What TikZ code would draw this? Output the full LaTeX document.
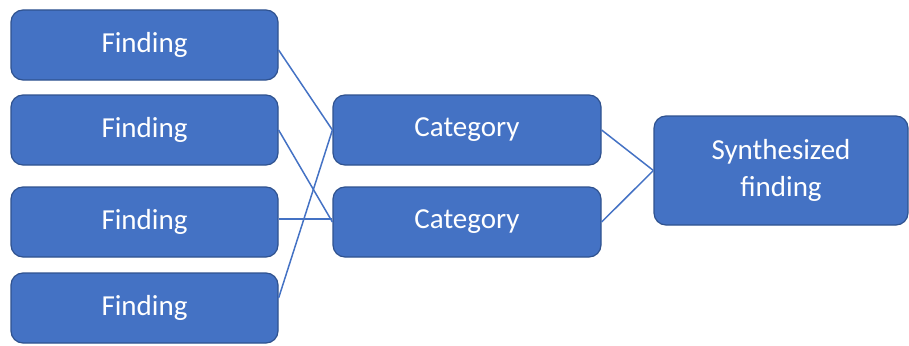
\documentclass[tikz,border=0pt]{standalone}
\usepackage{fontspec}
\setmainfont{Carlito}
\definecolor{boxblue}{HTML}{4472C4}
\definecolor{boxedge}{HTML}{2F528F}
\begin{document}
\begin{tikzpicture}[x=1pt,y=-1pt,
  blk/.style={draw=boxedge, line width=1.2pt, fill=boxblue, rounded corners=12pt,
    text=white, font=\fontsize{29}{37}\selectfont, align=center, inner sep=0pt},
  link/.style={draw=boxblue, line width=1.5pt}]
\useasboundingbox (0,0) rectangle (909,345);
\node[blk, minimum width=267pt, minimum height=70pt] (f1) at (144.5,45) {Finding};
\node[blk, minimum width=267pt, minimum height=70pt] (f2) at (144.5,130) {Finding};
\node[blk, minimum width=267pt, minimum height=70pt] (f3) at (144.5,222) {Finding};
\node[blk, minimum width=267pt, minimum height=70pt] (f4) at (144.5,308) {Finding};
\node[blk, minimum width=268pt, minimum height=70pt] (c1) at (467,130) {Category};
\node[blk, minimum width=268pt, minimum height=70pt] (c2) at (467,222) {Category};
\node[blk, minimum width=254pt, minimum height=109pt] (s) at (781,170.5) {Synthesized\\finding};
\draw[link] (f1.east) ++(0,5) -- (c1.west);
\draw[link] (f2.east) -- (c2.west);
\draw[link] ([yshift=3pt]f3.east) -- ([yshift=3pt]c2.west);
\draw[link] (f4.east) ++(0,-10) -- (c1.west);
\draw[link] (c1.east) -- (s.west);
\draw[link] (c2.east) -- (s.west);
\end{tikzpicture}
\end{document}
